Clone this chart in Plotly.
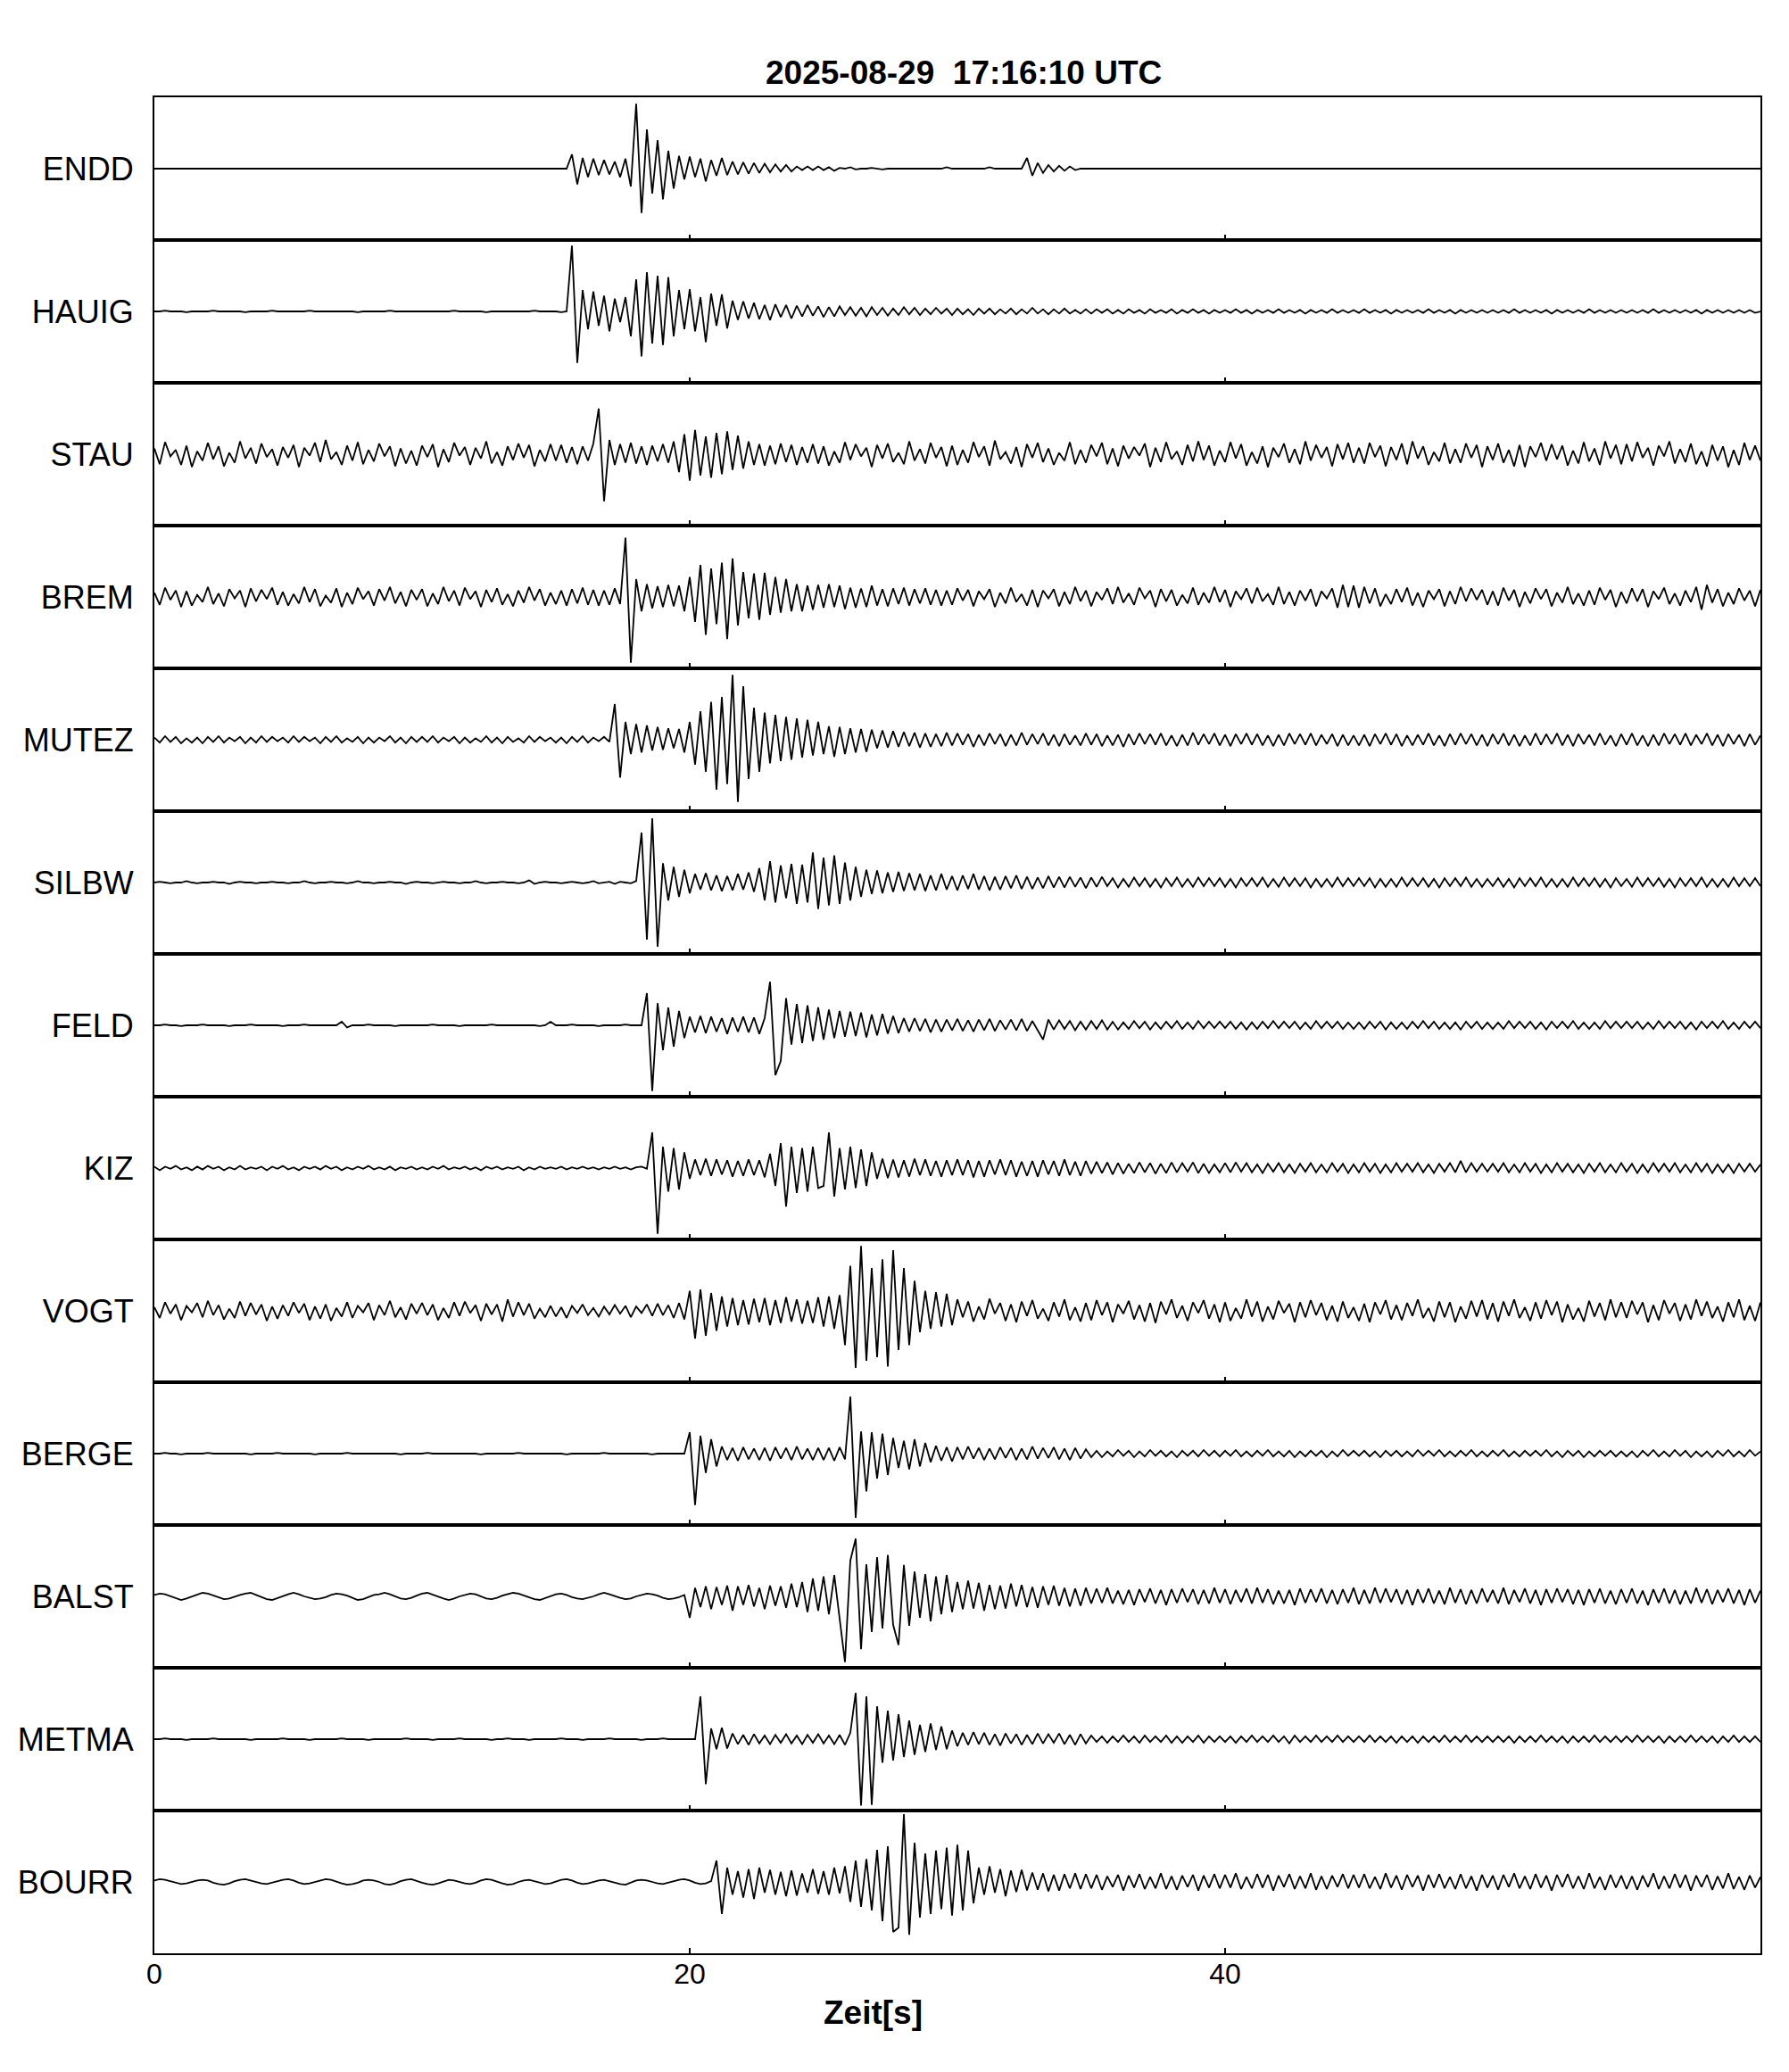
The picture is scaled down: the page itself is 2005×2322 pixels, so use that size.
import numpy as np
import plotly.graph_objects as go
from plotly.subplots import make_subplots

DT = 0.2  # sampling step of the listed amplitudes (s)
STATIONS = ["ENDD", "HAUIG", "STAU", "BREM", "MUTEZ", "SILBW", "FELD",
            "KIZ", "VOGT", "BERGE", "BALST", "METMA", "BOURR"]
X_TICKS = [0, 20, 40]
X_TICK_LABELS = ["0", "20", "40"]
TITLE = "2025-08-29  17:16:10 UTC"
X_LABEL = "Zeit[s]"

# amplitudes in % of half panel height, one value every 0.2 s from 0 s
ENDD = [
    0,0,0,0,0, 0,0,0,0,0, 0,0,0,0,0, 0,0,0,0,0, 0,0,0,0,0,
    0,0,0,0,0, 0,0,0,0,0, 0,0,0,0,0, 0,0,0,0,0, 0,0,0,0,0,
    0,0,0,0,0, 0,0,0,0,0, 0,0,0,0,0, 0,0,0,0,0, 0,0,0,0,0,
    0,0,0,20,-22, 15,-12,14,-9,12, -8,10,-12,14,-25, 91,-62,55,-35,40, -43,25,-28,18,-15,
    17,-12,14,-18,12, -10,15,-9,10,-8, 9,-7,8,-6,7, -5,6,-4,5,-4, 3,-2,3,-2,3,
    -2,2,-3,1,0, 2,-1,0,0,1, 0,-1,0,0,0, 0,0,0,0,0, 0,0,0,2,0,
    0,0,0,0,0, 0,2,0,0,0, 0,0,0,15,-10, 8,-6,5,-4,4, -3,3,-2,0,0,
    0,0,0,0,0, 0,0,0,0,0, 0,0,0,0,0, 0,0,0,0,0, 0,0,0,0,0,
    0,0,0,0,0, 0,0,0,0,0, 0,0,0,0,0, 0,0,0,0,0, 0,0,0,0,0,
    0,0,0,0,0, 0,0,0,0,0, 0,0,0,0,0, 0,0,0,0,0, 0,0,0,0,0,
    0,0,0,0,0, 0,0,0,0,0, 0,0,0,0,0, 0,0,0,0,0, 0,0,0,0,0,
    0,0,0,0,0, 0,0,0,0,0, 0,0,0,0,0, 0,0,0,0,0, 0,0,0,0,0, 0]
HAUIG = [
    0,0,1,0,0, 0,-1,0,0,0, 0,1,0,0,0, 0,0,-1,0,0, 0,0,1,0,0,
    0,0,0,0,1, 0,0,0,0,0, 0,0,0,-1,0, 0,0,0,0,1, 0,0,0,0,0,
    0,0,0,0,0, 0,1,0,0,0, 0,0,-1,0,0, 0,0,0,0,0, 0,1,0,0,0,
    0,-1,0,92,-72, 30,-25,28,-20,22, -28,18,-15,20,-35, 45,-63,55,-45,50, -47,48,-35,30,-25,
    31,-28,20,-43,25, -20,24,-24,15,-12, 14,-10,12,-11,9, -12,10,-8,9,-10, 8,-7,9,-6,7,
    -8,6,-7,7,-5, 6,-6,5,-7,6, -5,5,-6,4,-5, 6,-4,5,-5,4, -4,5,-3,4,-5,
    4,-4,3,-5,4, -3,4,-4,3,-3, 4,-4,3,-3,5, -3,3,-4,3,-3, 4,-3,2,-3,3,
    -3,3,-2,3,-3, 2,-3,3,-2,2, -3,3,-2,2,-2, 3,-3,2,-2,3, -2,2,-3,2,-2,
    2,-2,3,-2,2, -3,2,-2,2,-2, 3,-2,2,-2,2, -3,2,-2,2,-2, 3,-2,2,-2,2,
    -2,3,-2,2,-2, 2,-3,2,-2,2, -2,2,-2,3,-2, 2,-2,2,-3,2, -2,2,-2,2,-2,
    2,-2,2,-2,3, -2,2,-2,2,-2, 2,-3,2,-2,2, -2,2,-2,3,-2, 2,-2,2,-2,2,
    -2,2,-2,2,-2, 3,-2,2,-2,2, -2,2,-2,2,-3, 2,-2,2,-2,2, -2,2,-2,2,-2, 0]
STAU = [
    8,-14,17,-3,6, -15,12,-18,4,-9, 16,-7,11,-17,2, -12,18,-6,9,-13, 15,-4,7,-16,10,
    -5,13,-18,9,-2, 16,-11,20,-7,3, -15,12,-9,17,-14, 6,-10,15,-3,11, -17,8,-13,5,-16,
    12,-4,14,-18,7, -11,16,-2,10,-15, 9,-6,18,-13,3, -16,11,-8,15,-5, 13,-17,6,-10,14,
    -9,13,-12,10,-14, 11,-9,15,64,-66, 20,-15,14,-12,16, -13,11,-15,12,-10, 14,-12,18,-25,28,
    -37,34,-30,25,-33, 30,-28,32,-22,26, -20,18,-15,14,-16, 12,-14,15,-11,13, -15,10,-12,14,-13,
    11,-16,4,-12,17, -8,14,-3,9,-18, 13,-6,15,-11,2, -14,18,-9,7,-13, 16,-5,10,-17,12,
    -15,6,-12,17,-4, 11,-16,19,-7,3, -13,10,-18,14,-5, 16,-11,8,-15,2, -9,17,-14,6,-12,
    13,-3,16,-14,8, -17,12,-6,10,-2, 15,-18,9,-11,17, -7,4,-15,13,-10, 18,-8,12,-16,5,
    -11,17,-6,14,-16, 3,-13,11,-18,9, -4,15,-12,7,-14, 18,-9,13,-5,10, -17,14,-7,16,-12,
    9,-13,16,-4,12, -17,10,-8,15,-14, 18,-6,11,-15,3, -10,16,-13,7,-12, 15,-5,13,-18,11,
    -8,15,-12,6,-17, 13,-18,11,-4,16, -9,14,-7,12,-16, 5,-13,17,-10,8, -15,18,-6,13,-14,
    14,-10,17,-5,9, -16,12,-3,18,-13, 7,-11,15,-14,4, -17,13,-9,11,-18, 6,-15,16,-8,12, -9]
BREM = [
    6,-11,13,-4,9, -14,8,-12,3,-7, 14,-10,5,-13,11, -2,9,-14,12,-6, 10,-3,13,-11,7,
    -12,4,-9,14,-7, 11,-13,2,-8,12, -14,6,-10,13,-3, 8,-12,11,-5,14, -9,7,-13,10,-4,
    11,-13,5,-10,14, -6,9,-12,13,-3, 8,-14,10,-7,12, -11,4,-13,9,-8, 14,-5,11,-12,6,
    -10,9,-12,11,-9, 13,-11,10,-12,9, -11,12,-10,83,-92, 25,-20,18,-16,15, -14,17,-13,16,-20,
    28,-35,45,-53,40, -38,48,-59,54,-40, 35,-30,33,-32,34, -25,28,-22,25,-20, 18,-20,16,-18,17,
    -15,18,-14,16,-17, 13,-15,12,-14,16, -12,11,-13,12,-10, 13,-12,11,-9,12, -11,10,-12,9,-11,
    12,-5,10,-13,8, -3,11,-14,6,-9, 13,-7,4,-12,10, -14,9,-2,11,-13, 7,-10,14,-6,9,
    -13,7,-4,12,-10, 14,-8,5,-11,13, -2,9,-14,11,-6, 10,-12,3,-9,13, -11,6,-8,14,-7,
    10,-14,8,-3,12, -9,13,-6,4,-11, 14,-10,7,-12,9, -5,11,-13,8,-2, 12,-15,17,-14,16,
    -15,14,-9,12,-13, 4,-10,11,-7,13, -12,6,-14,9,-3, 11,-13,8,-10,14, -6,12,-4,10,-11,
    8,-12,13,-5,10, -14,7,-9,12,-3, 11,-13,6,-8,14, -10,5,-12,9,-11, 13,-4,10,-14,7,
    -9,12,-6,11,-14, 8,-3,13,-10,5, -12,9,-7,14,-18, 17,-8,11,-13,6, -10,12,-5,9,-13, 10]
MUTEZ = [
    3,-4,5,-3,4, -5,2,-4,3,-5, 4,-3,5,-4,3, -2,4,-5,3,-4, 5,-3,4,-2,3,
    -4,5,-3,4,-2, 3,-5,4,-3,5, -4,2,-3,4,-5, 3,-4,3,-2,5, -4,3,-5,4,-3,
    4,-3,5,-4,3, -2,4,-5,3,-4, 2,-3,5,-4,3, -5,4,-3,2,-4, 5,-3,4,-2,3,
    -4,3,-5,4,-3, 5,-4,3,-2,4, -3,50,-53,25,-20, 22,-18,20,-15,18, -14,16,-12,15,-18,
    25,-35,40,-45,53, -70,60,-62,91,-87, 75,-55,45,-45,38, -33,35,-30,32,-28, 30,-25,28,-22,25,
    -20,19,-24,18,-20, 16,-18,15,-17,14, -12,13,-11,12,-10, 11,-9,10,-11,9, -10,8,-9,10,-8,
    9,-7,8,-10,7, -8,9,-6,8,-9, 7,-8,10,-7,8, -6,9,-8,7,-9, 8,-7,6,-8,9,
    -7,8,-9,6,-8, 7,-10,8,-7,9, -6,8,-7,9,-8, 6,-9,7,-8,10, -7,8,-6,9,-8,
    7,-9,8,-6,9, -7,8,-8,6,-9, 7,-8,9,-6,8, -7,9,-8,7,-6, 8,-9,7,-8,6,
    -8,7,-9,8,-6, 9,-7,8,-9,6, -8,7,-7,9,-8, 6,-9,8,-7,9, -6,8,-8,7,-9,
    8,-6,9,-8,7, -9,6,-8,9,-7, 8,-6,9,-8,7, -9,8,-6,7,-8, 9,-7,6,-9,8,
    -7,9,-8,6,-9, 7,-8,9,-6,8, -7,9,-8,7,-6, 9,-8,7,-9,8, -6,7,-9,8,-7, 6]
SILBW = [
    0,1,0,-1,0, 0,2,0,-1,0, 0,1,0,0,-2, 0,1,0,0,-1, 0,0,1,0,0,
    -1,0,0,2,0, -1,0,0,1,0, 0,-1,0,2,0, 0,-1,0,0,1, 0,0,-2,0,1,
    0,0,-1,0,1, 0,0,-1,0,0, 2,0,-1,0,0, 1,0,0,-1,0, 3,-2,0,1,0,
    0,-1,0,1,0, -1,0,2,-1,0, 1,-2,1,0,-1, 2,70,-80,90,-90, 27,-25,22,-20,18,
    -15,12,-10,13,-11, 10,-12,9,-11,12, -10,14,-13,20,-25, 30,-28,24,-22,26, -30,25,-28,42,-37,
    35,-32,38,-30,28, -25,22,-20,18,-16, 17,-15,14,-13,15, -12,13,-11,12,-12, 10,-11,12,-10,9,
    -11,10,-9,12,-10, 9,-11,8,-10,9, -8,10,-9,8,-9, 7,-8,9,-7,8, -7,8,-6,7,-8,
    7,-6,8,-5,6, -7,5,-6,7,-5, 6,-6,5,-7,6, -5,7,-6,5,-6, 7,-5,6,-5,6,
    -6,5,-7,6,-5, 6,-5,7,-6,5, -6,7,-5,6,-5, 6,-7,5,-6,5, -6,7,-5,6,-5,
    6,-5,6,-7,5, -6,5,-6,7,-5, 6,-5,6,-6,5, -7,6,-5,6,-5, 7,-6,5,-6,5,
    -5,6,-6,5,-7, 6,-5,6,-5,7, -6,5,-6,5,-6, 7,-5,6,-5,6, -6,5,-7,6,-5,
    5,-6,7,-5,6, -5,6,-6,5,-7, 6,-5,6,-5,7, -6,5,-6,5,-6, 7,-5,6,-5,6, -5]
FELD = [
    0,0,1,0,0, -1,0,0,0,1, 0,0,0,0,-1, 0,0,0,1,0, 0,0,0,0,-1,
    0,0,0,1,0, 0,0,0,0,0, 5,-3,0,0,0, 1,0,0,0,0, -1,0,0,0,0,
    0,0,1,0,0, 0,0,-1,0,0, 0,0,0,1,0, 0,0,0,0,0, 0,0,-1,0,5,
    0,0,0,1,0, 0,0,0,-1,0, 0,0,0,1,0, 0,0,45,-92,31, -35,25,-30,20,-18,
    12,-10,13,-11,12, -9,10,-12,11,-9, 12,-10,11,-12,10, 61,-70,-50,38,-27, 30,-25,28,-22,25,
    -20,22,-18,20,-16, 19,-15,18,-17,15, -14,16,-12,13,-11, 10,-9,10,-8,9, -10,8,-9,8,-7,
    9,-8,7,-9,8, -7,9,-8,7,-6, 8,-7,9,-8,6, -7,-20,8,-6,7, -5,6,-7,5,-6,
    6,-5,7,-6,5, -6,4,-5,6,-4, 5,-6,4,-5,5, -4,6,-5,4,-5, 6,-4,5,-4,5,
    -4,5,-5,4,-6, 4,-5,5,-4,6, -4,5,-4,5,-5, 4,-5,6,-4,5, -4,5,-5,4,-5,
    4,-5,5,-4,5, -6,4,-5,4,-5, 5,-4,6,-4,5, -5,4,-5,4,-6, 5,-4,5,-5,4,
    -5,4,-5,6,-4, 5,-4,5,-5,4, -6,5,-4,5,-4, 6,-5,4,-5,4, -5,6,-4,5,-4,
    5,-4,5,-5,4, -5,6,-4,5,-4, 5,-5,4,-6,5, -4,5,-4,6,-5, 4,-5,5,-4,5, -4]
KIZ = [
    2,-3,2,-1,3, -2,1,-3,2,-2, 3,-1,2,-3,1, -2,3,-2,1,-1, 2,-3,2,-1,3,
    -2,1,-3,2,-1, 2,-2,3,-1,2, -3,1,-2,2,-1, 3,-2,1,-2,2, -3,1,-1,2,-2,
    1,-2,2,-1,3, -2,1,-1,2,-2, 1,-3,2,-1,2, -2,1,-1,2,-3, 1,-2,2,-1,1,
    -1,2,-2,1,-1, 2,-1,1,-2,1, -1,2,-1,1,-2, 1,2,-1,50,-92, 30,-33,28,-30,22,
    -15,12,-10,13,-11, 12,-9,11,-12,10, -11,12,-10,11,-13, 20,-25,35,-54,30, -35,28,-33,30,-28,
    -25,50,-40,28,-30, 30,-28,26,-25,22, -15,13,-14,12,-13, 11,-12,13,-10,12, -11,10,-12,11,-10,
    12,-10,11,-13,10, -12,11,-9,12,-10, 11,-12,9,-11,10, -12,11,-9,10,-11, 12,-10,9,-11,10,
    -8,9,-7,8,-9, 7,-8,6,-7,8, -6,7,-8,6,-7, 8,-6,7,-5,8, -7,6,-7,5,-6,
    7,-6,8,-5,7, -6,5,-7,6,-5, 7,-6,5,-7,6, -5,7,-6,5,-6, 7,-5,6,-7,5,
    -6,7,-5,6,-7, 5,-6,7,-5,6, -5,7,-6,5,-7, 6,-5,7,-6,10, -6,7,-5,6,-5,
    6,-5,7,-6,5, -6,7,-5,6,-7, 5,-6,7,-5,6, -6,5,-7,6,-5, 7,-6,5,-6,7,
    -5,6,-7,5,-6, 7,-5,6,-5,7, -6,5,-6,7,-5, 6,-7,5,-6,5, -7,6,-5,6,-5, 5]
VOGT = [
    5,-10,12,-4,9, -13,7,-2,11,-9, 14,-6,8,-12,3, -10,13,-7,11,-5, 9,-14,6,-11,8,
    -7,12,-3,10,-13, 6,-11,9,-14,4, -8,12,-10,7,-2, 11,-13,8,-6,14, -9,5,-12,10,-4,
    11,-6,9,-13,4, -10,12,-7,13,-3, 8,-14,10,-5,9, -15,16,-8,12,-6, 10,-11,3,-9,7,
    -8,5,-10,7,-3, 9,-6,4,-8,6, -5,8,-4,7,-9, 6,-3,9,-7,10, -6,8,-10,11,-12,
    28,-39,30,-35,25, -28,20,-22,18,-20, 15,-19,17,-16,18, -20,15,-17,19,-15, 16,-18,14,-17,19,
    -22,20,-25,22,-48, 63,-80,91,-70,60, -65,72,-78,85,-55, 60,-48,42,-30,28, -25,26,-22,24,-20,
    16,-9,13,-15,6, -12,17,-4,11,-14, 9,-16,13,-7,15, -11,3,-14,12,-8, 16,-13,5,-15,11,
    -13,15,-6,12,-16, 9,-4,14,-12,8, -15,11,-17,13,-5, 16,-10,7,-14,12, -3,15,-11,9,-16,
    12,-14,4,-11,16, -8,13,-15,6,-12, 14,-3,10,-16,12, -9,15,-6,11,-13, 7,-15,13,-10,5,
    -14,10,-16,12,-5, 15,-12,8,-13,11, -7,16,-10,4,-15, 13,-9,12,-16,6, -11,14,-8,15,-12,
    11,-15,13,-7,16, -10,5,-14,12,-11, 15,-6,13,-16,9, -12,4,-15,14,-8, 11,-13,16,-9,12,
    -10,14,-5,12,-16, 8,-13,15,-4,11, -14,9,-12,16,-7, 13,-10,6,-15,12, -9,16,-13,7,-14, 12]
BERGE = [
    0,0,1,0,0, -1,0,0,0,0, 1,0,0,0,0, 0,0,0,-1,0, 0,0,0,1,0,
    0,0,0,0,0, -1,0,0,0,0, 0,1,0,0,0, 0,0,0,0,0, 0,-1,0,0,0,
    0,1,0,0,0, 0,0,0,0,0, 0,-1,0,0,0, 0,0,0,1,0, 0,0,0,0,0,
    0,0,-1,0,0, 0,0,0,0,1, 0,0,0,0,0, 0,0,0,-1,0, 0,0,0,0,0,
    30,-72,25,-27,20, -18,10,-9,8,-10, 9,-8,7,-9,8, -10,9,-7,8,-9, 10,-8,7,-9,8,
    -9,8,-10,9,-8, 80,-90,31,-53,30, -35,28,-30,22,-20, 18,-22,20,-18,15, -12,11,-10,9,-11,
    9,-8,10,-7,8, -9,7,-8,9,-6, 8,-9,7,-8,10, -7,8,-6,9,-8, 7,-9,8,-7,6,
    -5,4,-5,3,-4, 5,-3,4,-5,3, -4,5,-3,4,-4, 3,-5,4,-3,4, -4,5,-3,4,-4,
    4,-3,5,-4,3, -4,4,-3,5,-4, 3,-4,4,-5,3, -4,4,-3,4,-5, 3,-4,5,-3,4,
    -3,4,-4,3,-5, 4,-3,4,-4,3, -4,5,-3,4,-3, 5,-4,3,-4,4, -3,5,-4,3,-4,
    4,-3,5,-4,3, -4,4,-3,4,-3, 5,-4,3,-5,4, -3,4,-5,3,-4, 4,-3,4,-4,3,
    -4,3,-5,4,-3, 5,-4,3,-4,5, -3,4,-5,3,-4, 3,-5,4,-3,5, -4,3,-4,5,-3, 3]
BALST = [
    2,4,3,0,-3, -5,-3,0,3,5, 4,1,-2,-4,-3, 0,2,4,5,2, -1,-4,-5,-2,1,
    3,5,3,0,-2, -4,-3,-1,2,4, 3,1,-2,-5,-4, -1,2,3,5,3, 0,-3,-4,-2,1,
    4,5,2,-1,-3, -5,-3,0,2,4, 3,0,-3,-4,-2, 1,3,5,4,1, -2,-4,-5,-2,1,
    3,4,2,-1,-3, -4,-2,0,3,5, 3,0,-2,-4,-3, 0,2,4,3,1, -2,-4,-3,-1,2,
    -30,12,-15,14,-18, 13,-12,15,-20,14, -12,16,-14,12,-18, 15,-13,14,-16,18, -15,20,-22,25,-20,
    28,-25,30,-35,-92, 50,81,-74,45,-50, 55,-45,58,-40,-68, 44,-41,35,-30,31, -35,28,-25,30,-22,
    20,-18,22,-17,19, -20,16,-18,15,-17, 18,-14,16,-15,13, -16,14,-12,15,-13, 12,-14,11,-13,12,
    -10,11,-9,12,-10, 8,-11,9,-12,10, -8,11,-10,9,-12, 10,-9,11,-8,10, -11,9,-10,12,-9,
    10,-11,9,-8,11, -10,12,-9,10,-11, 8,-10,9,-12,11, -9,10,-8,11,-10, 9,-11,10,-9,12,
    -11,9,-10,12,-9, 11,-8,10,-11,9, -12,10,-9,11,-10, 8,-11,12,-9,10, -11,9,-10,11,-8,
    9,-10,12,-11,9, -8,11,-10,9,-12, 10,-9,11,-8,10, -11,9,-12,10,-9, 11,-10,8,-11,10,
    -9,11,-10,8,-12, 10,-9,11,-10,9, -11,8,-10,12,-9, 10,-11,9,-8,11, -10,9,-12,10,-9, 8]
METMA = [
    0,0,1,0,0, 0,-1,0,0,0, 0,1,0,0,0, 0,0,0,-1,0, 0,0,0,0,1,
    0,0,0,0,-1, 0,0,0,0,0, 1,0,0,0,0, -1,0,0,0,0, 0,0,1,0,0,
    0,0,-1,0,0, 0,0,1,0,0, 0,0,0,-1,0, 0,1,0,0,0, -1,0,0,0,0,
    0,1,0,0,0, -1,0,0,0,0, 1,0,0,0,0, 0,-1,0,0,0, 1,0,0,0,0,
    0,0,60,-63,15, -14,16,-13,8,-7, 6,-8,7,-6,5, -7,6,-5,7,-6, 5,-7,6,-5,7,
    -6,5,-7,6,-8, 9,65,-93,60,-92, 46,-33,40,-30,35, -25,26,-22,20,-18, 22,-15,18,-14,12,
    -10,9,-8,10,-7, 9,-8,7,-9,8, -6,7,-8,6,-7, 8,-6,7,-5,8, -7,6,-8,7,-6,
    5,-4,4,-5,4, -4,5,-4,4,-5, 5,-4,4,-4,5, -5,4,-5,4,-4, 5,-5,4,-4,4,
    -4,4,-5,4,-4, 5,-4,4,-4,5, -4,4,-6,5,-4, 4,-4,5,-4,4, -4,5,-4,4,-4,
    4,-4,5,-4,4, -4,4,-5,4,-4, 4,-5,4,-4,4, -4,5,-4,4,-4, 5,-4,4,-4,4,
    -4,4,-4,4,-5, 4,-4,4,-4,5, -4,4,-4,4,-5, 4,-4,4,-4,5, -4,4,-4,4,-4,
    4,-4,5,-4,4, -4,4,-5,4,-4, 4,-4,5,-4,4, -4,4,-5,4,-4, 5,-4,4,-4,4, -4]
BOURR = [
    2,4,3,1,-1, -3,-2,0,2,3, 2,-1,-3,-4,-2, 1,3,4,2,0, -2,-3,-1,1,3,
    4,2,-1,-3,-2, 0,2,4,3,0, -2,-4,-3,-1,2, 3,2,0,-3,-4, -2,1,3,4,1,
    -1,-3,-4,-2,1, 3,2,0,-2,-3, -1,2,4,3,0, -2,-4,-3,0,2, 3,1,-1,-3,-2,
    1,3,4,2,-1, -3,-2,0,2,3, 1,-1,-3,-4,-1, 2,3,2,0,-2, -3,-1,1,3,4,
    2,-1,-3,-2,1, 30,-45,20,-18,15, -22,18,-24,20,-15, 17,-18,14,-20,16, -19,12,-15,18,-17,
    15,-18,20,-16,22, -28,30,-35,32,-40, 45,-55,50,-70,-64, 95,-74,55,-50,40, -45,44,-38,48,-47,
    52,-40,44,-30,20, -18,22,-15,18,-20, 16,-14,17,-12,13, -11,12,-13,10,-12, 11,-9,12,-10,11,
    -9,10,-11,8,-7, 10,-12,9,-8,11, -10,7,-9,12,-10, 8,-11,9,-7,10, -12,9,-8,11,-9,
    10,-8,12,-10,7, -9,11,-8,10,-12, 9,-7,11,-10,8, -9,12,-11,8,-10, 9,-7,11,-9,10,
    -8,11,-9,7,-10, 12,-8,9,-11,10, -7,9,-12,10,-8, 11,-9,7,-10,11, -9,8,-12,10,-8,
    9,-11,10,-7,12, -9,8,-10,11,-8, 9,-12,10,-7,11, -9,8,-10,12,-9, 7,-11,10,-8,9,
    -10,8,-11,9,-7, 12,-10,8,-9,11, -8,10,-12,9,-7, 10,-11,8,-9,12, -10,7,-11,9,-8, 7]

SERIES = [ENDD, HAUIG, STAU, BREM, MUTEZ, SILBW, FELD,
          KIZ, VOGT, BERGE, BALST, METMA, BOURR]

FONT = "Liberation Sans, Arial, Helvetica, sans-serif"
N = len(STATIONS)

fig = make_subplots(rows=N, cols=1, shared_xaxes=True, vertical_spacing=0)

for i, (name, vals) in enumerate(zip(STATIONS, SERIES), start=1):
    t = np.arange(len(vals)) * DT
    fig.add_trace(go.Scatter(x=t, y=vals, mode="lines", name=name,
                             line=dict(color="black", width=1.8),
                             showlegend=False, hoverinfo="skip"),
                  row=i, col=1)
    fig.update_yaxes(row=i, col=1, range=[-100, 100], tickvals=[0],
                     ticktext=[name], ticks="", showgrid=False, zeroline=False,
                     showline=True, mirror=True, linecolor="black", linewidth=2,
                     tickfont=dict(family=FONT, size=36, color="black"),
                     ticklabelstandoff=14, fixedrange=True)
    fig.update_xaxes(row=i, col=1, range=[0, 60], tickvals=X_TICKS,
                     ticktext=X_TICK_LABELS, ticks="inside", ticklen=6,
                     tickwidth=2, tickcolor="black", showgrid=False,
                     zeroline=False, showline=True, mirror=True,
                     linecolor="black", linewidth=2,
                     showticklabels=(i == N),
                     tickfont=dict(family=FONT, size=32, color="black"),
                     ticklabelstandoff=-6)

# page body adds an 8 px offset; figure coordinates below are page px - 8
W, H = 2005, 2322
L, R, T, B = 165, 40, 101, 141
PW, PH = W - L - R, H - T - B

fig.add_annotation(text="<b>" + TITLE + "</b>", xref="paper", yref="paper",
                   x=(1072 - L) / PW, y=1 + (T - 73) / PH,
                   xanchor="center", yanchor="middle", showarrow=False,
                   font=dict(family=FONT, size=37, color="black"))
fig.add_annotation(text="<b>" + X_LABEL + "</b>", xref="paper", yref="paper",
                   x=(970 - L) / PW, y=-(2247 - (H - B)) / PH,
                   xanchor="center", yanchor="middle", showarrow=False,
                   font=dict(family=FONT, size=37, color="black"))

fig.update_layout(width=W, height=H, margin=dict(l=L, r=R, t=T, b=B),
                  paper_bgcolor="white", plot_bgcolor="white",
                  showlegend=False)

fig.write_html("out.html")
